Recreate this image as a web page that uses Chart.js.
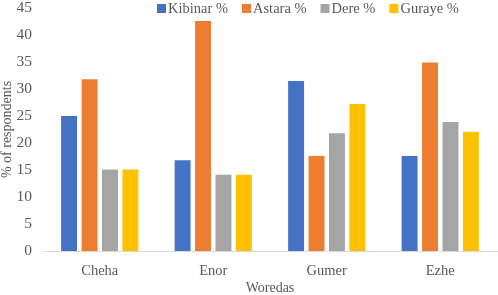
<!DOCTYPE html>
<html>
<head>
<meta charset="utf-8">
<script src="https://cdn.jsdelivr.net/npm/chart.js@4.4.0/dist/chart.umd.min.js"></script>
<style>
  html, body { margin: 0; padding: 0; background: #fff; }
  #wrap { position: relative; width: 498px; height: 295px; }
</style>
</head>
<body>
<div id="wrap"><canvas id="chart"></canvas></div>
<script>
// data
const woredas = ['Cheha', 'Enor', 'Gumer', 'Ezhe'];
const kibinar = [25.0, 16.8, 31.5, 17.6];
const astara = [31.8, 42.6, 17.6, 34.9];
const dere = [15.1, 14.1, 21.8, 23.9];
const guraye = [15.1, 14.1, 27.2, 22.1];
const yTicks = [0, 5, 10, 15, 20, 25, 30, 35, 40, 45];

const serif = 'Liberation Serif';
const textColor = '#595959';

// legend drawn over the top of the plot, like the original
const topLegend = {
  id: 'topLegend',
  afterDraw(chart) {
    const ctx = chart.ctx;
    ctx.save();
    ctx.font = '14.5px "' + serif + '"';
    ctx.textBaseline = 'middle';
    let x = 157;
    const y = 9;
    chart.data.datasets.forEach((ds) => {
      ctx.fillStyle = ds.backgroundColor;
      ctx.fillRect(x, y - 5, 9, 9);
      x += 11;
      ctx.fillStyle = textColor;
      ctx.fillText(ds.label, x, y);
      x += ctx.measureText(ds.label).width + 14;
    });
    ctx.restore();
  }
};

new Chart(document.getElementById('chart'), {
  type: 'bar',
  data: {
    labels: woredas,
    datasets: [
      { label: 'Kibinar %', data: kibinar, backgroundColor: '#4472C4' },
      { label: 'Astara %', data: astara, backgroundColor: '#ED7D31' },
      { label: 'Dere %', data: dere, backgroundColor: '#A5A5A5' },
      { label: 'Guraye %', data: guraye, backgroundColor: '#FFC000' },
    ],
  },
  options: {
    responsive: true,
    maintainAspectRatio: false,
    animation: false,
    layout: { padding: { top: 8, right: 1, left: 0, bottom: 0 } },
    datasets: {
      bar: { categoryPercentage: 0.72, barPercentage: 0.78 },
    },
    plugins: {
      legend: { display: false },
      tooltip: { enabled: false },
    },
    scales: {
      x: {
        grid: { display: false, drawTicks: false },
        border: { color: '#d9d9d9', width: 1 },
        ticks: { color: textColor, font: { family: serif, size: 14.5 }, padding: 11 },
        title: {
          display: true,
          text: 'Woredas',
          color: textColor,
          font: { family: serif, size: 14, lineHeight: 1 },
          padding: { top: 5, bottom: 0 },
        },
        afterFit(axis) {
          axis.height = 44;
        },
      },
      y: {
        min: 0,
        max: 45,
        afterBuildTicks(axis) {
          axis.ticks = yTicks.map((v) => ({ value: v }));
        },
        grid: { display: false, drawTicks: false },
        border: { display: false },
        ticks: { color: textColor, font: { family: serif, size: 15.5 }, padding: 11 },
        title: {
          display: true,
          text: '% of respondents',
          color: textColor,
          font: { family: serif, size: 14, lineHeight: 1 },
          padding: { top: 0, bottom: 0 },
        },
        afterFit(axis) {
          axis.width = 43;
          axis.paddingTop = 0;
          axis.paddingBottom = 0;
        },
      },
    },
  },
  plugins: [topLegend],
});
</script>
</body>
</html>
